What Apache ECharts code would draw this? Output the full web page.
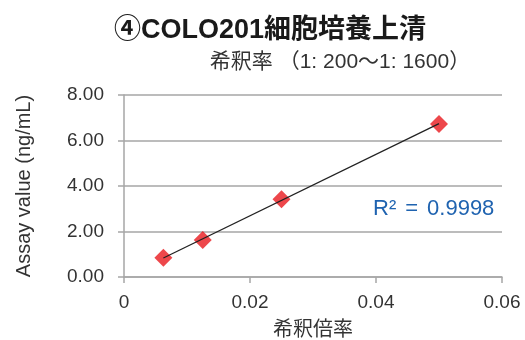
<!DOCTYPE html>
<html>
<head>
<meta charset="utf-8">
<script src="https://cdn.jsdelivr.net/npm/echarts@6/dist/echarts.min.js"></script>
<style>html,body{margin:0;padding:0;background:#fff;}#c{width:525px;height:340px;}</style>
</head>
<body>
<div id="c"></div>
<script>
const dilutionRatio = [0.00625, 0.0125, 0.025, 0.05];
const assayValue = [0.85, 1.63, 3.42, 6.73];
const xTicks = [0, 0.02, 0.04, 0.06];
const yTicks = [0, 2, 4, 6, 8];
const titleText = '④COLO201細胞培養上清';
const subtitleText = '希釈率 （1: 200〜1: 1600）';
const xAxisName = '希釈倍率';
const yAxisName = 'Assay value (ng/mL)';
const r2Parts = ['R²', '=', '0.9998'];

// least squares fit of the data (trendline)
const n = dilutionRatio.length;
const mx = dilutionRatio.reduce((a,b)=>a+b,0)/n;
const my = assayValue.reduce((a,b)=>a+b,0)/n;
let sxy=0, sxx=0;
for (let i=0;i<n;i++){ sxy+=(dilutionRatio[i]-mx)*(assayValue[i]-my); sxx+=(dilutionRatio[i]-mx)**2; }
const slope = sxy/sxx, icpt = my - slope*mx;
const xmin = Math.min(...dilutionRatio), xmax = Math.max(...dilutionRatio);
const fitLine = [[xmin, icpt+slope*xmin],[xmax, icpt+slope*xmax]];

const FONT = '"Liberation Sans", "Noto Sans CJK JP", sans-serif';
const chart = echarts.init(document.getElementById('c'));
chart.setOption({
  animation: false,
  textStyle: { fontFamily: FONT },
  title: [
    { text: titleText, left: 265, top: 12, textAlign: 'center',
      textStyle: { fontSize: 27, fontWeight: 'bold', color: '#1a1a1a', fontFamily: FONT } },
    { text: subtitleText, left: 335, top: 47, textAlign: 'center',
      textStyle: { fontSize: 21, fontWeight: 'normal', color: '#333', fontFamily: FONT } }
  ],
  grid: { left: 124, right: 23, top: 95, bottom: 63, containLabel: false, outerBoundsMode: 'none' },
  xAxis: {
    type: 'value', min: xTicks[0], max: xTicks[xTicks.length-1], interval: xTicks[1]-xTicks[0],
    name: xAxisName, nameLocation: 'middle', nameGap: 43,
    nameTextStyle: { fontSize: 20, color: '#333' },
    axisLine: { show: true, lineStyle: { color: '#a6a6a6', width: 1.5 } },
    axisTick: { show: true, length: 6, lineStyle: { color: '#a6a6a6', width: 1.5 } },
    splitLine: { show: false },
    axisLabel: { fontSize: 19, color: '#333', margin: 16,
      formatter: v => v === 0 ? '0' : v.toFixed(2) }
  },
  yAxis: {
    type: 'value', min: yTicks[0], max: yTicks[yTicks.length-1], interval: yTicks[1]-yTicks[0],
    name: yAxisName, nameLocation: 'middle', nameGap: 90, nameRotate: 90,
    nameTextStyle: { fontSize: 20, color: '#333' },
    axisLine: { show: true, lineStyle: { color: '#a6a6a6', width: 1.5 } },
    axisTick: { show: true, length: 6, lineStyle: { color: '#a6a6a6', width: 1.5 } },
    splitLine: { show: true, lineStyle: { color: '#a6a6a6', width: 1.5 } },
    axisLabel: { fontSize: 19, color: '#333', margin: 20, formatter: v => v.toFixed(2) }
  },
  graphic: [
    { type: 'text', left: 373, top: 198,
      style: {
        text: '{a|' + r2Parts[0] + '}{b|' + r2Parts[1] + '}{a|' + r2Parts[2] + '}',
        fontSize: 22, fill: '#1f63b0', fontFamily: FONT,
        rich: {
          a: { fontSize: 22, fill: '#1f63b0', fontFamily: FONT },
          b: { fontSize: 22, fill: '#1f63b0', fontFamily: FONT, padding: [0, 9, 0, 9] }
        }
      } }
  ],
  series: [
    { type: 'line', data: fitLine, symbol: 'none', z: 3,
      lineStyle: { color: '#222', width: 1.3 } },
    { type: 'scatter', data: dilutionRatio.map((x,i)=>[x, assayValue[i]]),
      symbol: 'diamond', symbolSize: [18, 18], z: 2,
      itemStyle: { color: '#e8191e' } }
  ]
});
</script>
</body>
</html>
